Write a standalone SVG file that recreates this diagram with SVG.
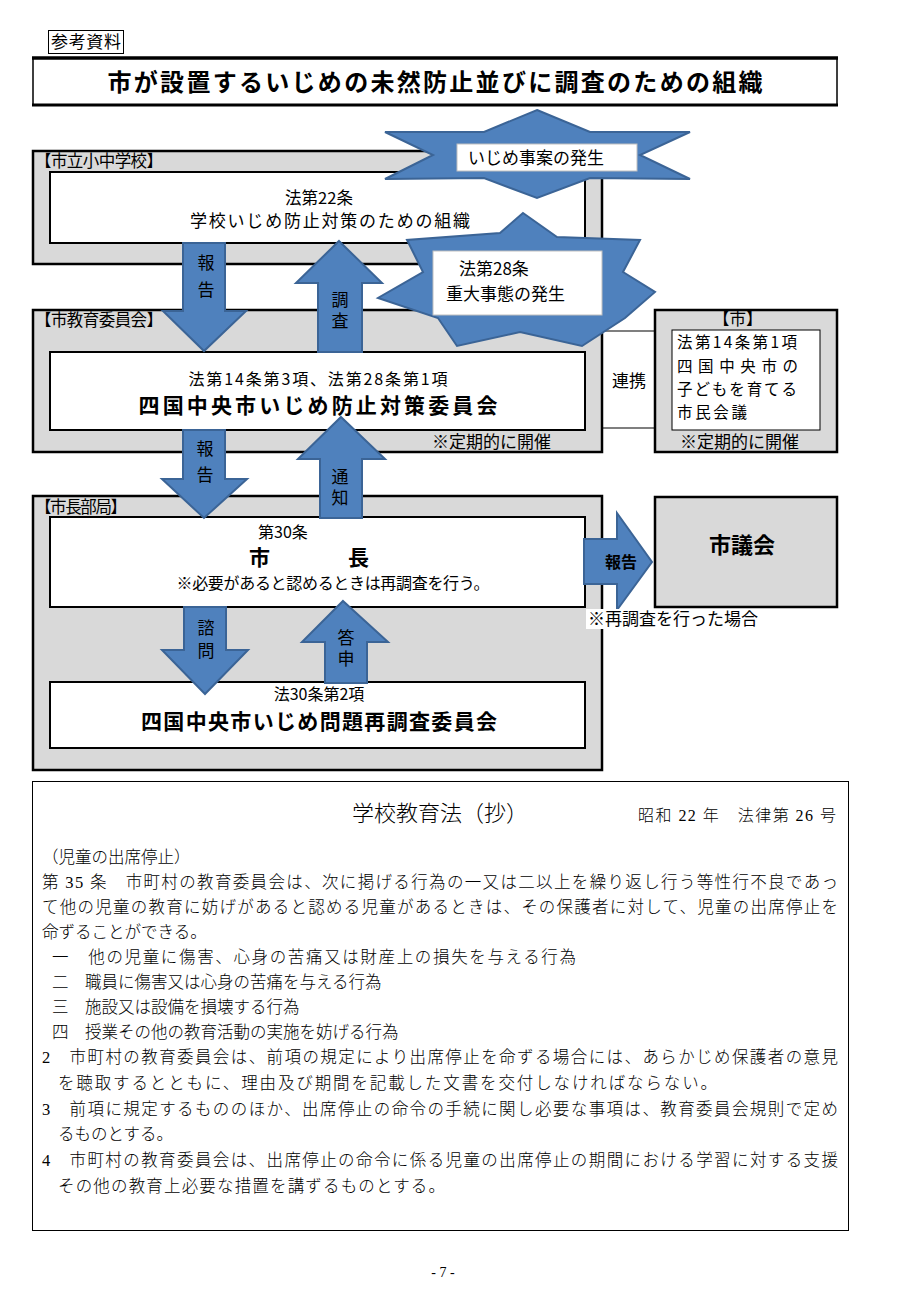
<svg xmlns="http://www.w3.org/2000/svg" width="908" height="1292" viewBox="0 0 908 1292">
<style>
.jp{font-family:"Noto Sans CJK JP","Noto Sans",sans-serif;fill:#000}
.b{font-weight:bold}
.v{writing-mode:vertical-rl;font-size:17px}
.law{font-family:"Liberation Serif","Noto Sans CJK JP",serif;fill:#000;font-weight:300}
.grp{fill:#d9d9d9;stroke:#000;stroke-width:2.5}
.inner{fill:#fff;stroke:#000;stroke-width:2}
.arr{fill:#4f81bd;stroke:#3b6496;stroke-width:2;stroke-linejoin:miter}
.lbl{fill:#fff;stroke:#bfbfbf;stroke-width:1}
.ln{stroke:#000;stroke-width:1.2;fill:none}
</style>
<rect width="908" height="1292" fill="#fff"/>

<g id="ref-tag">
<rect x="48.5" y="30.5" width="75" height="23" fill="#fff" stroke="#000" stroke-width="1"/>
<text class="jp" x="51" y="48" font-size="17" textLength="70">参考資料</text>
</g>

<g id="title">
<rect x="33" y="58" width="804" height="47" fill="#fff" stroke="#000" stroke-width="1.5"/>
<line x1="32" y1="58" x2="838" y2="58" stroke="#000" stroke-width="3.5"/>
<line x1="32" y1="105" x2="838" y2="105" stroke="#000" stroke-width="3"/>
<text class="jp b" x="435" y="91" font-size="24" text-anchor="middle" textLength="655">市が設置するいじめの未然防止並びに調査のための組織</text>
</g>

<g id="school">
<rect class="grp" x="33" y="151" width="569" height="113"/>
<text class="jp" x="35" y="167" font-size="16.5" textLength="128">【市立小中学校】</text>
<rect class="inner" x="50" y="172" width="535" height="71"/>
<text class="jp" x="319" y="204" font-size="16.5" text-anchor="middle">法第22条</text>
<text class="jp" x="330" y="227" font-size="17" text-anchor="middle" textLength="280">学校いじめ防止対策のための組織</text>
</g>

<g id="board">
<rect class="grp" x="33" y="310" width="569" height="142"/>
<text class="jp" x="35" y="326" font-size="16.5" textLength="128">【市教育委員会】</text>
<rect class="inner" x="50" y="352" width="535" height="78"/>
<text class="jp" x="318" y="385" font-size="16" text-anchor="middle" textLength="259">法第14条第3項、法第28条第1項</text>
<text class="jp b" x="318" y="413" font-size="21" text-anchor="middle" textLength="359">四国中央市いじめ防止対策委員会</text>
<text class="jp" x="432" y="448" font-size="17">※定期的に開催</text>
</g>

<g id="city">
<rect class="grp" x="655" y="310" width="182" height="142"/>
<text class="jp" x="713" y="325" font-size="16.5">【市】</text>
<rect x="672" y="330" width="148" height="100" fill="#fff" stroke="#000" stroke-width="1"/>
<text class="jp" x="677" y="348" font-size="15.5" textLength="120">法第14条第1項</text>
<text class="jp" x="677" y="372" font-size="15.5" textLength="121">四国中央市の</text>
<text class="jp" x="677" y="395" font-size="15.5" textLength="120">子どもを育てる</text>
<text class="jp" x="677" y="418" font-size="15.5" textLength="70">市民会議</text>
<text class="jp" x="680" y="448" font-size="17">※定期的に開催</text>
</g>

<g id="mayor">
<rect class="grp" x="33" y="496" width="569" height="274"/>
<text class="jp" x="35" y="513" font-size="16.5" textLength="92">【市長部局】</text>
<rect class="inner" x="50" y="517" width="535" height="90"/>
<text class="jp" x="283" y="538" font-size="16" text-anchor="middle">第30条</text>
<text class="jp b" x="249" y="565" font-size="21">市</text>
<text class="jp b" x="348" y="565" font-size="21">長</text>
<text class="jp" x="333" y="589" font-size="16" text-anchor="middle" textLength="313">※必要があると認めるときは再調査を行う。</text>
</g>

<g id="reinvestigation">
<rect class="inner" x="50" y="682" width="535" height="66"/>
<text class="jp" x="319" y="700" font-size="16" text-anchor="middle">法30条第2項</text>
<text class="jp b" x="319" y="729" font-size="21" text-anchor="middle" textLength="356">四国中央市いじめ問題再調査委員会</text>
</g>

<g id="council">
<rect class="grp" x="655" y="497" width="182" height="110"/>
<text class="jp b" x="742" y="553" font-size="22" text-anchor="middle">市議会</text>
</g>

<g id="connectors">
<line class="ln" x1="602" y1="331" x2="655" y2="331"/>
<line class="ln" x1="602" y1="428" x2="655" y2="428"/>
<text class="jp" x="612" y="387" font-size="17">連携</text>

<polygon class="arr" points="183,243 225,243 225,311 246,311 204,351 163,311 183,311"/>
<text class="jp v" x="206" y="254" letter-spacing="10">報告</text>

<polygon class="arr" points="339,241 382,283 362,283 362,352 318,352 318,283 296,283"/>
<text class="jp v" x="340" y="291" letter-spacing="4">調査</text>

<polygon class="arr" points="183,430 225,430 225,479 247,479 204,518 162,479 183,479"/>
<text class="jp v" x="205" y="440" letter-spacing="9">報告</text>

<polygon class="arr" points="341,417 385,459 362,459 362,518 320,518 320,459 298,459"/>
<text class="jp v" x="340" y="468" letter-spacing="4">通知</text>

<polygon class="arr" points="184,607 226,607 226,650 248,650 205,694 162,650 184,650"/>
<text class="jp v" x="206" y="619" letter-spacing="6">諮問</text>

<polygon class="arr" points="343,601 388,642 367,642 367,683 325,683 325,642 302,642"/>
<text class="jp v" x="346" y="629" letter-spacing="4">答申</text>

<polygon class="arr" points="584,539 617,539 617,513 652,562 617,610 617,584 584,584"/>
<text class="jp b" x="621" y="568" font-size="16" text-anchor="middle">報告</text>

<rect x="586" y="609" width="178" height="20" fill="#fff"/>
<text class="jp" x="588" y="625" font-size="17">※再調査を行った場合</text>
</g>

<g id="event-star">
<polygon class="arr" points="537,110 590,132 690,132 640,155 690,179 590,178 537,198 484,178 385,179 433,155 385,132 484,132"/>
<rect class="lbl" x="457" y="144" width="180" height="27"/>
<text class="jp" x="468" y="164" font-size="17">いじめ事案の発生</text>
</g>

<g id="serious-star">
<polygon class="arr" points="523,213 557,237 640,240 623,272 655,292 625,318 582,346 520,332 457,346 438,318 378,298 423,272 407,240 500,233"/>
<rect class="lbl" x="433" y="251" width="169" height="64"/>
<text class="jp" x="459" y="275" font-size="17">法第28条</text>
<text class="jp" x="446" y="300" font-size="17">重大事態の発生</text>
</g>

<g id="law-excerpt">
<rect x="32.5" y="781.5" width="816" height="449" fill="#fff" stroke="#000" stroke-width="1"/>
<text class="law" x="440" y="821" style="font-size:22px" text-anchor="middle">学校教育法（抄）</text>
<text class="law" x="638" y="821" style="font-size:16px" textLength="198">昭和 22 年　法律第 26 号</text>
<g style="font-size:16.5px">
<text class="law" x="42" y="863">（児童の出席停止）</text>
<text class="law" x="42" y="888" textLength="796">第 35 条　市町村の教育委員会は、次に掲げる行為の一又は二以上を繰り返し行う等性行不良であっ</text>
<text class="law" x="42" y="913" textLength="796">て他の児童の教育に妨げがあると認める児童があるときは、その保護者に対して、児童の出席停止を</text>
<text class="law" x="42" y="938">命ずることができる。</text>
<text class="law" x="52" y="963" textLength="524">一　他の児童に傷害、心身の苦痛又は財産上の損失を与える行為</text>
<text class="law" x="52" y="988">二　職員に傷害又は心身の苦痛を与える行為</text>
<text class="law" x="52" y="1013">三　施設又は設備を損壊する行為</text>
<text class="law" x="52" y="1038">四　授業その他の教育活動の実施を妨げる行為</text>
<text class="law" x="42" y="1063" textLength="796">2　市町村の教育委員会は、前項の規定により出席停止を命ずる場合には、あらかじめ保護者の意見</text>
<text class="law" x="58" y="1089" textLength="659">を聴取するとともに、理由及び期間を記載した文書を交付しなければならない。</text>
<text class="law" x="42" y="1115" textLength="796">3　前項に規定するもののほか、出席停止の命令の手続に関し必要な事項は、教育委員会規則で定め</text>
<text class="law" x="58" y="1140">るものとする。</text>
<text class="law" x="42" y="1166" textLength="796">4　市町村の教育委員会は、出席停止の命令に係る児童の出席停止の期間における学習に対する支援</text>
<text class="law" x="58" y="1192" textLength="387">その他の教育上必要な措置を講ずるものとする。</text>
</g>
</g>

<text class="law" x="443" y="1277" style="font-size:14px" text-anchor="middle">- 7 -</text>
</svg>
